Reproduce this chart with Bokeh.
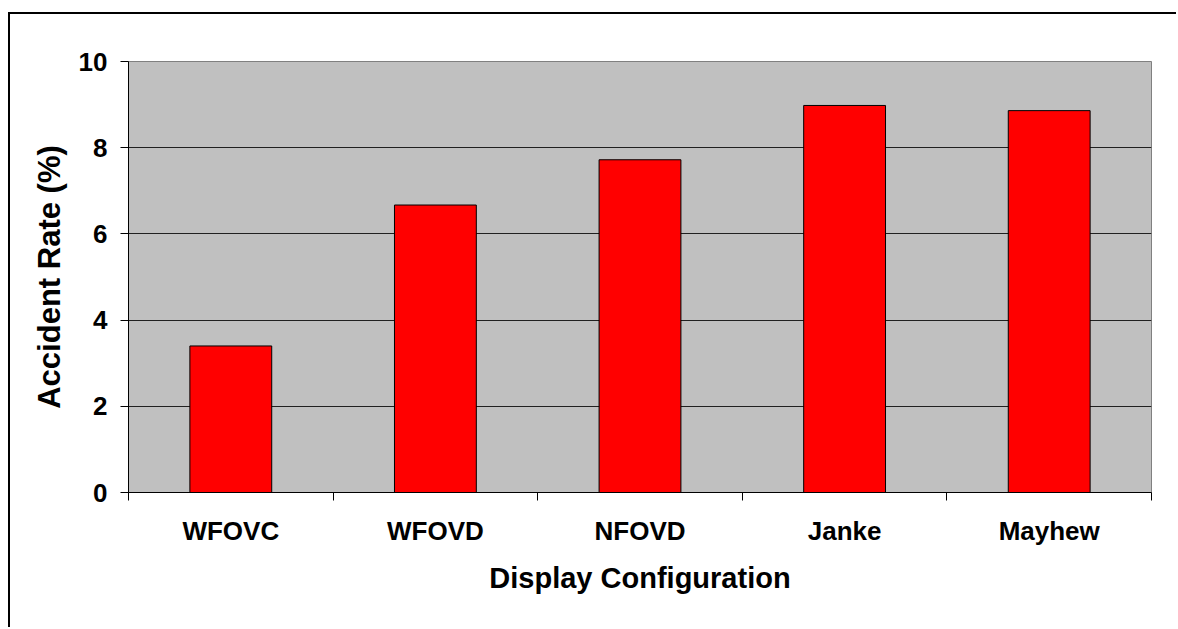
from bokeh.plotting import figure
from bokeh.models import LinearAxis, FixedTicker, ColumnDataSource, Range1d
from bokeh.embed import file_html
from bokeh.resources import INLINE
import numpy as np

categories = ["WFOVC", "WFOVD", "NFOVD", "Janke", "Mayhew"]
accident_rate = [3.4, 6.67, 7.72, 8.98, 8.86]
y_ticks = [0, 2, 4, 6, 8, 10]

FONT = "Liberation Sans"
centers = (np.arange(len(categories)) + 0.5).tolist()
source = ColumnDataSource(dict(x=centers, top=accident_rate, cat=categories))

p = figure(width=1168, height=615, output_backend="svg", toolbar_location=None,
           x_range=Range1d(0, len(categories)), y_range=Range1d(0, 10),
           min_border_left=118, min_border_right=27, min_border_top=47, min_border_bottom=137,
           background_fill_color="#C0C0C0", border_fill_color="white",
           margin=(12, 0, 0, 8))
p.styles = {"border-left": "2px solid black", "border-top": "2px solid black"}
p.outline_line_color = "#808080"
p.outline_line_width = 1

p.vbar(x="x", top="top", width=0.4, source=source, fill_color="#FF0000",
       line_color="black", line_width=1)

# y axis
ya = p.yaxis[0]
ya.ticker = FixedTicker(ticks=y_ticks)
ya.axis_line_color = "black"
ya.major_tick_line_color = "black"
ya.major_tick_in = 0
ya.major_tick_out = 8
ya.minor_tick_line_color = None
ya.major_label_text_font = FONT
ya.major_label_text_font_style = "bold"
ya.major_label_text_font_size = "26px"
ya.major_label_text_color = "black"
ya.major_label_standoff = 13
ya.axis_label = "Accident Rate (%)"
ya.axis_label_text_font = FONT
ya.axis_label_text_font_style = "bold"
ya.axis_label_text_font_size = "31px"
ya.axis_label_text_color = "black"
ya.axis_label_standoff = 9

p.ygrid.ticker = FixedTicker(ticks=y_ticks[1:-1])
p.ygrid.grid_line_color = "#202020"
p.ygrid.grid_line_width = 1
p.xgrid.grid_line_color = None

# x axis: boundary ticks
xa = p.xaxis[0]
xa.ticker = FixedTicker(ticks=list(range(len(categories) + 1)))
xa.axis_line_color = "black"
xa.major_tick_line_color = "black"
xa.major_tick_in = 0
xa.major_tick_out = 8
xa.minor_tick_line_color = None
xa.major_label_overrides = {i: "" for i in range(len(categories) + 1)}
xa.major_label_text_font_size = "1px"
xa.major_label_standoff = 0

# x axis: category labels at centers
xa2 = LinearAxis(ticker=FixedTicker(ticks=centers),
                 major_label_overrides={c: n for c, n in zip(centers, categories)})
xa2.axis_line_color = None
xa2.major_tick_line_color = None
xa2.minor_tick_line_color = None
xa2.major_tick_in = 0
xa2.major_tick_out = 0
xa2.major_label_text_font = FONT
xa2.major_label_text_font_style = "bold"
xa2.major_label_text_font_size = "26px"
xa2.major_label_text_color = "black"
xa2.major_label_standoff = 15
xa2.axis_label = "Display Configuration"
xa2.axis_label_text_font = FONT
xa2.axis_label_text_font_style = "bold"
xa2.axis_label_text_font_size = "29px"
xa2.axis_label_text_color = "black"
xa2.axis_label_standoff = 13
p.add_layout(xa2, "below")

open("out.html", "w").write(file_html(p, INLINE))
